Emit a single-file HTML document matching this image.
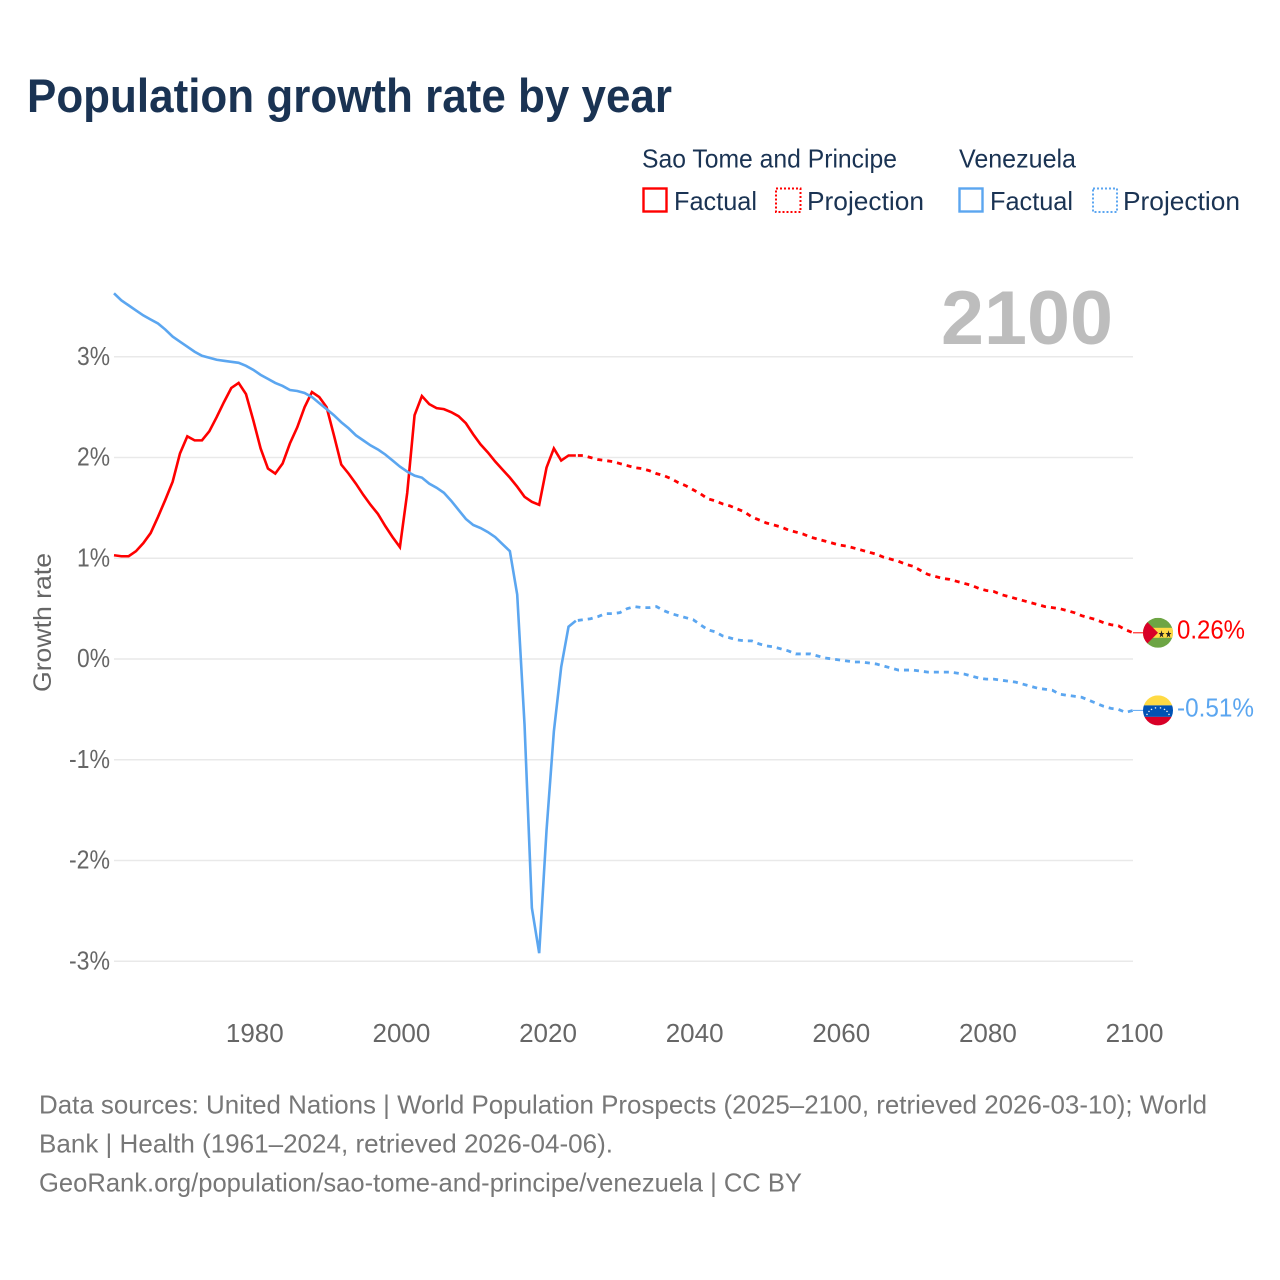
<!DOCTYPE html>
<html lang="en">
<head>
<meta charset="utf-8">
<title>Population growth rate by year</title>
<style>
html,body{margin:0;padding:0;background:#fff;width:1280px;height:1280px;overflow:hidden}
svg{display:block}
text{font-family:"Liberation Sans",sans-serif}
</style>
</head>
<body>
<svg id="chart" xmlns="http://www.w3.org/2000/svg" width="1280" height="1280" viewBox="0 0 1280 1280">
  <defs>
    <clipPath id="flag-clip-a"><circle cx="0" cy="0" r="15"/></clipPath>
    <clipPath id="flag-clip-b"><circle cx="0" cy="0" r="15"/></clipPath>
  </defs>
  <rect x="0" y="0" width="1280" height="1280" fill="#fff"/>
  <text x="27" y="112" font-size="47" font-weight="700" fill="#1a3353" textLength="645" lengthAdjust="spacingAndGlyphs">Population growth rate by year</text>

  <g font-size="26" fill="#1a3353">
    <text x="642" y="167.5" textLength="255" lengthAdjust="spacingAndGlyphs">Sao Tome and Principe</text>
    <text x="959" y="167.5" textLength="117" lengthAdjust="spacingAndGlyphs">Venezuela</text>
    <rect x="643.5" y="188.5" width="23" height="23" fill="none" stroke="#ff0000" stroke-width="2.4"/>
    <text x="674" y="210" textLength="83" lengthAdjust="spacingAndGlyphs">Factual</text>
    <rect x="776" y="188.5" width="24.5" height="23.5" fill="none" stroke="#ff0000" stroke-width="2" stroke-dasharray="2 2"/>
    <text x="807" y="210" textLength="117" lengthAdjust="spacingAndGlyphs">Projection</text>
    <rect x="959.5" y="188.5" width="23" height="23" fill="none" stroke="#5ba6f0" stroke-width="2.4"/>
    <text x="990" y="210" textLength="83" lengthAdjust="spacingAndGlyphs">Factual</text>
    <rect x="1093" y="188.5" width="24" height="23.5" fill="none" stroke="#5ba6f0" stroke-width="2" stroke-dasharray="2 2"/>
    <text x="1123" y="210" textLength="117" lengthAdjust="spacingAndGlyphs">Projection</text>
  </g>

  <text x="941" y="344" font-size="76" font-weight="700" fill="#bdbdbd" textLength="172" lengthAdjust="spacingAndGlyphs">2100</text>
  <text transform="translate(51 692) rotate(-90)" x="0" y="0" font-size="25" fill="#666" textLength="139" lengthAdjust="spacingAndGlyphs">Growth rate</text>

  <g id="grid"></g>
  <g id="y-ticks"></g>
  <g id="x-ticks"></g>
  <g id="series"></g>

  <g id="flag-stp">
    <g clip-path="url(#flag-clip-a)">
      <rect x="-15" y="-15" width="30" height="30" fill="#6da544"/>
      <rect x="-15" y="-5" width="30" height="10" fill="#ffda44"/>
      <path d="M-15 -15L0 0L-15 15Z" fill="#d80027"/>
      <text x="0" y="4.5" font-size="10" fill="#222" textLength="14" lengthAdjust="spacingAndGlyphs">★★</text>
    </g>
  </g>
  <g id="flag-ven">
    <g clip-path="url(#flag-clip-b)">
      <rect x="-15" y="-15" width="30" height="10" fill="#ffda44"/>
      <rect x="-15" y="-5" width="30" height="11.5" fill="#0052b4"/>
      <rect x="-15" y="6.5" width="30" height="9" fill="#d80027"/>
      <g fill="#f0f0f0">
        <circle cx="-11" cy="4" r="0.8"/><circle cx="-9" cy="1" r="0.8"/><circle cx="-6.5" cy="-1" r="0.8"/><circle cx="-2.5" cy="-2.5" r="0.8"/><circle cx="2.5" cy="-2.5" r="0.8"/><circle cx="6.5" cy="-1" r="0.8"/><circle cx="9" cy="1" r="0.8"/><circle cx="11" cy="4" r="0.8"/>
      </g>
    </g>
  </g>
  <text id="label-stp" x="1177" y="639" font-size="26" fill="#ff0000" textLength="68" lengthAdjust="spacingAndGlyphs"></text>
  <text id="label-ven" x="1177" y="717" font-size="26" fill="#5ba6f0" textLength="77" lengthAdjust="spacingAndGlyphs"></text>

  <g font-size="26" fill="#777">
    <text x="39" y="1113.5" textLength="1168" lengthAdjust="spacingAndGlyphs">Data sources: United Nations | World Population Prospects (2025–2100, retrieved 2026-03-10); World</text>
    <text x="39" y="1152.5" textLength="574" lengthAdjust="spacingAndGlyphs">Bank | Health (1961–2024, retrieved 2026-04-06).</text>
    <text x="39" y="1191.5" textLength="763" lengthAdjust="spacingAndGlyphs">GeoRank.org/population/sao-tome-and-principe/venezuela | CC BY</text>
  </g>
</svg>
<script>
const factualStartYear = 1961;
const projectionStartYear = 2025;
const yTickValues = [3, 2, 1, 0, -1, -2, -3];
const yTickLabels = ['3%', '2%', '1%', '0%', '-1%', '-2%', '-3%'];
const xTickYears = [1980, 2000, 2020, 2040, 2060, 2080, 2100];
const saoTomeFactual = [1.03,1.02,1.02,1.07,1.15,1.25,1.41,1.58,1.76,2.04,2.21,2.17,2.17,2.26,2.40,2.55,2.69,2.74,2.63,2.37,2.09,1.89,1.84,1.94,2.14,2.30,2.50,2.65,2.60,2.50,2.22,1.93,1.84,1.74,1.63,1.53,1.44,1.32,1.21,1.11,1.65,2.42,2.61,2.53,2.49,2.48,2.45,2.41,2.34,2.23,2.13,2.05,1.96,1.88,1.80,1.71,1.61,1.56,1.53,1.90,2.09,1.97,2.02,2.02];
const saoTomeProjection = [2.02,2.00,1.98,1.97,1.96,1.94,1.92,1.90,1.89,1.87,1.84,1.82,1.79,1.75,1.72,1.68,1.64,1.59,1.57,1.54,1.52,1.49,1.46,1.41,1.38,1.35,1.33,1.31,1.28,1.26,1.24,1.21,1.19,1.17,1.15,1.13,1.12,1.10,1.08,1.06,1.04,1.01,0.99,0.97,0.94,0.92,0.88,0.84,0.82,0.80,0.79,0.77,0.75,0.73,0.70,0.68,0.67,0.64,0.62,0.60,0.58,0.56,0.54,0.52,0.51,0.50,0.48,0.46,0.43,0.41,0.39,0.36,0.34,0.33,0.29,0.26];
const venezuelaFactual = [3.63,3.56,3.51,3.46,3.41,3.37,3.33,3.27,3.20,3.15,3.10,3.05,3.01,2.99,2.97,2.96,2.95,2.94,2.91,2.87,2.82,2.78,2.74,2.71,2.67,2.66,2.64,2.60,2.54,2.48,2.42,2.35,2.29,2.22,2.17,2.12,2.08,2.03,1.97,1.91,1.86,1.82,1.80,1.74,1.70,1.65,1.57,1.48,1.39,1.33,1.30,1.26,1.21,1.14,1.07,0.64,-0.65,-2.47,-2.92,-1.70,-0.72,-0.08,0.32,0.38];
const venezuelaProjection = [0.39,0.40,0.42,0.45,0.45,0.46,0.50,0.52,0.51,0.51,0.52,0.48,0.45,0.43,0.41,0.39,0.34,0.29,0.27,0.23,0.21,0.19,0.18,0.18,0.15,0.13,0.12,0.10,0.08,0.05,0.05,0.05,0.03,0.01,0,-0.01,-0.02,-0.03,-0.03,-0.04,-0.05,-0.07,-0.09,-0.11,-0.11,-0.11,-0.12,-0.13,-0.13,-0.13,-0.13,-0.14,-0.15,-0.17,-0.19,-0.20,-0.20,-0.21,-0.22,-0.23,-0.25,-0.27,-0.29,-0.30,-0.31,-0.35,-0.36,-0.37,-0.38,-0.41,-0.44,-0.47,-0.49,-0.50,-0.53,-0.51];

const SVG_NS = 'http://www.w3.org/2000/svg';
const xScale = function (year) { return 114 + (year - 1961) * (1133 - 114) / (2100 - 1961); };
const yScale = function (value) { return 659 - value * 100.75; };

const gridGroup = document.getElementById('grid');
const yTickGroup = document.getElementById('y-ticks');
const xTickGroup = document.getElementById('x-ticks');
const seriesGroup = document.getElementById('series');

yTickValues.forEach(function (value, i) {
  const line = document.createElementNS(SVG_NS, 'line');
  
  
  line.setAttribute('x1', 114);
  line.setAttribute('x2', 1133);
  line.setAttribute('y1', yScale(value));
  line.setAttribute('y2', yScale(value));
  line.setAttribute('stroke', '#e9e9e9');
  line.setAttribute('stroke-width', 1.6);
  gridGroup.appendChild(line);

  const label = document.createElementNS(SVG_NS, 'text');
  
  
  label.setAttribute('x', 77 - (yTickLabels[i].length - 2) * 8);
  label.setAttribute('y', yScale(value) + 8);
  label.setAttribute('font-size', 26);
  label.setAttribute('fill', '#666');
  label.setAttribute('textLength', 33 + (yTickLabels[i].length - 2) * 8);
  label.setAttribute('lengthAdjust', 'spacingAndGlyphs');
  label.textContent = yTickLabels[i];
  yTickGroup.appendChild(label);
});

xTickYears.forEach(function (year) {
  const label = document.createElementNS(SVG_NS, 'text');
  
  
  label.setAttribute('x', xScale(year) + 1.5);
  label.setAttribute('y', 1042);
  label.setAttribute('font-size', 26);
  label.setAttribute('fill', '#666');
  label.setAttribute('text-anchor', 'middle');
  label.textContent = String(year);
  xTickGroup.appendChild(label);
});

function pathFrom(values, startYear) {
  return values.map(function (value, i) {
    return (i ? 'L' : 'M') + xScale(startYear + i).toFixed(2) + ' ' + yScale(value).toFixed(2);
  }).join('');
}

function addSeries(name, color, factual, projection) {
  const solid = document.createElementNS(SVG_NS, 'path');
  
  
  solid.setAttribute('d', pathFrom(factual, factualStartYear));
  solid.setAttribute('fill', 'none');
  solid.setAttribute('stroke', color);
  solid.setAttribute('stroke-width', 2.6);
  solid.setAttribute('stroke-linejoin', 'miter');
  seriesGroup.appendChild(solid);

  const lastFactual = factual[factual.length - 1];
  const dashed = document.createElementNS(SVG_NS, 'path');
  
  
  dashed.setAttribute('d', pathFrom([lastFactual].concat(projection), projectionStartYear - 1));
  dashed.setAttribute('fill', 'none');
  dashed.setAttribute('stroke', color);
  dashed.setAttribute('stroke-width', 2.8);
  dashed.setAttribute('stroke-dasharray', '5 5');
  dashed.setAttribute('stroke-dashoffset', '-2');
  seriesGroup.appendChild(dashed);

  const lastValue = projection[projection.length - 1];
  const connector = document.createElementNS(SVG_NS, 'line');
  
  
  connector.setAttribute('x1', xScale(2100));
  connector.setAttribute('x2', xScale(2100) + 12);
  connector.setAttribute('y1', yScale(lastValue));
  connector.setAttribute('y2', yScale(lastValue));
  connector.setAttribute('stroke', color);
  connector.setAttribute('stroke-width', 1);
  seriesGroup.appendChild(connector);
}

addSeries('sao-tome', '#ff0000', saoTomeFactual, saoTomeProjection);
addSeries('venezuela', '#5ba6f0', venezuelaFactual, venezuelaProjection);

const stpEnd = saoTomeProjection[saoTomeProjection.length - 1];
const venEnd = venezuelaProjection[venezuelaProjection.length - 1];
document.getElementById('flag-stp').setAttribute('transform', 'translate(1158 ' + yScale(stpEnd) + ')');
document.getElementById('flag-ven').setAttribute('transform', 'translate(1158 ' + yScale(venEnd) + ')');
const stpLabel = document.getElementById('label-stp');
stpLabel.setAttribute('y', yScale(stpEnd) + 5.5);
stpLabel.textContent = stpEnd.toFixed(2) + '%';
const venLabel = document.getElementById('label-ven');
venLabel.setAttribute('y', yScale(venEnd) + 6);
venLabel.textContent = venEnd.toFixed(2) + '%';
</script>
</body>
</html>
